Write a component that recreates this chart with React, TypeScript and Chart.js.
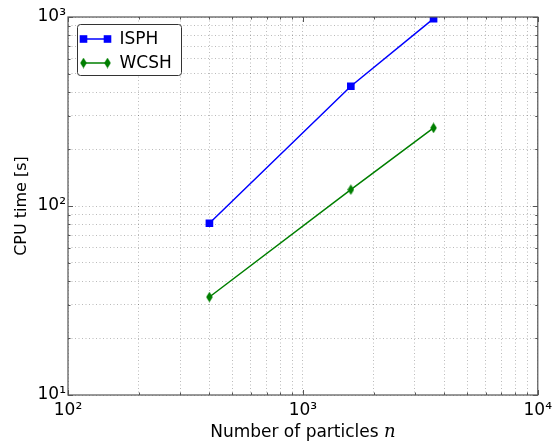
import { useEffect, useRef } from 'react';
import { Chart, registerables } from 'chart.js';

Chart.register(...registerables);

// Measured runtimes for the two solvers
const particleCounts = [400, 1600, 3600];
const isphTimes = [81, 430, 980];
const wcshTimes = [33, 122, 259];
const seriesNames = ['ISPH', 'WCSH'];
const seriesColors = ['#0000ff', '#007f00'];

// Axis ranges and decade labels
const xRange = [100, 10000];
const yRange = [10, 1000];
const xTickLabels: Record<number, string> = { 100: '10²', 1000: '10³', 10000: '10⁴' };
const yTickLabels: Record<number, string> = { 10: '10¹', 100: '10²', 1000: '10³' };
const xTitleText = 'Number of particles ';
const xTitleVar = 'n';
const yTitleText = 'CPU time [s]';

const FONT = '"DejaVu Sans", "Bitstream Vera Sans", sans-serif';
const FRAME = '#555555';

// 1..9 × 10^k ticks across the whole range
function logTicks(min: number, max: number) {
  const out: { value: number; major: boolean }[] = [];
  const e0 = Math.round(Math.log10(min));
  const e1 = Math.round(Math.log10(max));
  for (let e = e0; e <= e1; e++) {
    for (let m = 1; m <= 9; m++) {
      const v = m * Math.pow(10, e);
      if (v >= min && v <= max) out.push({ value: v, major: m === 1 });
    }
  }
  return out;
}

function makeDiamond(color: string) {
  const c = document.createElement('canvas');
  c.width = 7;
  c.height = 11;
  const g = c.getContext('2d')!;
  g.beginPath();
  g.moveTo(3.5, 0.3);
  g.lineTo(6.8, 5.5);
  g.lineTo(3.5, 10.7);
  g.lineTo(0.2, 5.5);
  g.closePath();
  g.fillStyle = color;
  g.fill();
  return c;
}

function drawSquare(ctx: CanvasRenderingContext2D, x: number, y: number, color: string) {
  ctx.fillStyle = color;
  ctx.fillRect(x - 3.8, y - 3.8, 7.6, 7.6);
}

const overlayPlugin = {
  id: 'overlay',
  afterDraw(chart: any) {
    const { ctx, chartArea: a } = chart;
    const xs = chart.scales.x;
    const ys = chart.scales.y;
    ctx.save();

    // inward tick marks on all four sides
    ctx.strokeStyle = FRAME;
    ctx.lineWidth = 1;
    ctx.beginPath();
    for (const t of xs.ticks) {
      const px = Math.round(xs.getPixelForValue(t.value)) + 0.5;
      const len = t.major ? 5 : 2.5;
      ctx.moveTo(px, a.bottom);
      ctx.lineTo(px, a.bottom - len);
      ctx.moveTo(px, a.top);
      ctx.lineTo(px, a.top + len);
    }
    for (const t of ys.ticks) {
      const py = Math.round(ys.getPixelForValue(t.value)) + 0.5;
      const len = t.major ? 5 : 2.5;
      ctx.moveTo(a.left, py);
      ctx.lineTo(a.left + len, py);
      ctx.moveTo(a.right, py);
      ctx.lineTo(a.right - len, py);
    }
    ctx.stroke();

    // frame
    ctx.strokeStyle = FRAME;
    ctx.lineWidth = 1.2;
    ctx.strokeRect(a.left, a.top, a.right - a.left, a.bottom - a.top);

    // x title with an italic variable
    ctx.fillStyle = '#000';
    ctx.textBaseline = 'alphabetic';
    ctx.font = `17px ${FONT}`;
    const w1 = ctx.measureText(xTitleText).width;
    ctx.font = 'italic 18px "DejaVu Serif", serif';
    const w2 = ctx.measureText(xTitleVar).width;
    const cx = (a.left + a.right) / 2;
    const x0 = cx - (w1 + w2) / 2;
    ctx.font = `17px ${FONT}`;
    ctx.textAlign = 'left';
    ctx.fillText(xTitleText, x0, 437);
    ctx.font = 'italic 18px "DejaVu Serif", serif';
    ctx.fillText(xTitleVar, x0 + w1, 437);

    // legend box
    const bx = a.left + 9.5;
    const by = a.top + 7.5;
    const bw = 104;
    const bh = 51;
    ctx.beginPath();
    ctx.roundRect(bx, by, bw, bh, 3);
    ctx.fillStyle = '#ffffff';
    ctx.fill();
    ctx.strokeStyle = '#333333';
    ctx.lineWidth = 1;
    ctx.stroke();

    const rows = [by + 14.5, by + 38.5];
    seriesNames.forEach((name, i) => {
      const y = rows[i];
      const lx0 = bx + 6;
      const lx1 = bx + 30;
      ctx.strokeStyle = seriesColors[i];
      ctx.lineWidth = 1.5;
      ctx.beginPath();
      ctx.moveTo(lx0, y);
      ctx.lineTo(lx1, y);
      ctx.stroke();
      if (i === 0) {
        drawSquare(ctx, lx0, y, seriesColors[i]);
        drawSquare(ctx, lx1, y, seriesColors[i]);
      } else {
        const d = chart.data.datasets[1].pointStyle as HTMLCanvasElement;
        ctx.drawImage(d, lx0 - d.width / 2, y - d.height / 2);
        ctx.drawImage(d, lx1 - d.width / 2, y - d.height / 2);
      }
      ctx.fillStyle = '#000';
      ctx.font = `17px ${FONT}`;
      ctx.textBaseline = 'middle';
      ctx.textAlign = 'left';
      ctx.fillText(name, bx + 42, y + 1);
    });

    ctx.restore();
  },
};

export default function App() {
  const ref = useRef<HTMLCanvasElement>(null);

  useEffect(() => {
    const canvas = ref.current;
    if (!canvas) return;
    const diamond = makeDiamond(seriesColors[1]);

    const grid = {
      color: 'rgba(0,0,0,0.27)',
      lineWidth: 1,
      drawTicks: false,
    };

    const chart = new Chart(canvas, {
      type: 'line',
      data: {
        datasets: [
          {
            label: seriesNames[0],
            data: particleCounts.map((x, i) => ({ x, y: isphTimes[i] })),
            borderColor: seriesColors[0],
            backgroundColor: seriesColors[0],
            borderWidth: 1.5,
            pointStyle: 'rect',
            pointRadius: 5.4,
            pointBorderWidth: 0,
          },
          {
            label: seriesNames[1],
            data: particleCounts.map((x, i) => ({ x, y: wcshTimes[i] })),
            borderColor: seriesColors[1],
            backgroundColor: seriesColors[1],
            borderWidth: 1.5,
            pointStyle: diamond as any,
            pointRadius: 5,
          },
        ],
      },
      options: {
        animation: false,
        responsive: false,
        events: [],
        layout: { padding: { top: 17, right: 16, left: 0, bottom: 0 } },
        plugins: {
          legend: { display: false },
          tooltip: { enabled: false },
        },
        scales: {
          x: {
            type: 'logarithmic',
            min: xRange[0],
            max: xRange[1],
            grid,
            border: { display: false, dash: [1, 2.5] },
            afterBuildTicks: (s: any) => {
              s.ticks = logTicks(xRange[0], xRange[1]);
            },
            afterFit: (s: any) => {
              s.height = 49;
            },
            ticks: {
              autoSkip: false,
              maxRotation: 0,
              padding: 5,
              color: '#000',
              font: { family: FONT, size: 17 },
              callback: (v: any) => xTickLabels[Math.round(Number(v))] ?? '',
            },
          },
          y: {
            type: 'logarithmic',
            min: yRange[0],
            max: yRange[1],
            grid,
            border: { display: false, dash: [1, 2.5] },
            afterBuildTicks: (s: any) => {
              s.ticks = logTicks(yRange[0], yRange[1]);
            },
            afterFit: (s: any) => {
              s.width = 68;
            },
            title: {
              display: true,
              text: yTitleText,
              color: '#000',
              font: { family: FONT, size: 16 },
              padding: { top: 12, bottom: 0 },
            },
            ticks: {
              autoSkip: false,
              padding: 2,
              color: '#000',
              font: { family: FONT, size: 17 },
              callback: (v: any) => yTickLabels[Math.round(Number(v))] ?? '',
            },
          },
        },
      },
      plugins: [overlayPlugin],
    });

    return () => chart.destroy();
  }, []);

  return (
    <div style={{ position: 'fixed', left: 0, top: 0, width: 557, height: 444, background: '#fff' }}>
      <canvas ref={ref} width={557} height={444} style={{ display: 'block' }} />
    </div>
  );
}
